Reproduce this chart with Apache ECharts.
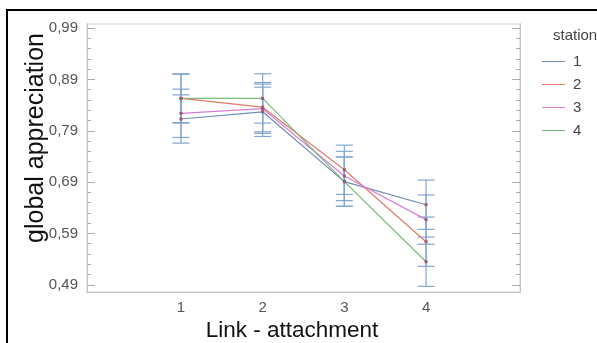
<!DOCTYPE html>
<html>
<head>
<meta charset="utf-8">
<script src="https://cdn.jsdelivr.net/npm/echarts@6/dist/echarts.min.js"></script>
<style>
  html, body { margin: 0; padding: 0; background: #fff; }
  #chart { width: 597px; height: 343px; }
</style>
</head>
<body>
<div id="chart"></div>
<script>
// link-attachment levels on the x axis
var links = [1, 2, 3, 4];
var stations = ['1', '2', '3', '4'];

// mean global appreciation per station
var station1 = [0.813, 0.827, 0.691, 0.646];
var station2 = [0.853, 0.836, 0.714, 0.574];
var station3 = [0.824, 0.833, 0.702, 0.617];
var station4 = [0.853, 0.853, 0.691, 0.535];

// half width of the error bars
var err1 = [0.047, 0.048, 0.048, 0.048];
var err2 = [0.047, 0.048, 0.048, 0.048];
var err3 = [0.047, 0.048, 0.048, 0.048];
var err4 = [0.048, 0.048, 0.048, 0.048];

var yTicks = [0.49, 0.59, 0.69, 0.79, 0.89, 0.99];
var yMinorTicks = [];
yTicks.forEach(function (t, i) {
    if (i < yTicks.length - 1) {
        for (var k = 1; k < 5; k++) yMinorTicks.push(+(t + k * 0.02).toFixed(2));
    }
});

var means = [station1, station2, station3, station4];
var errs = [err1, err2, err3, err4];
var colors = ['#6f8db3', '#e27a6a', '#d57fd8', '#7cb87a'];
var barColor = '#86a6d0';

var myChart = echarts.init(document.getElementById('chart'));

function yAxisDef(pos, major, showLabel) {
    return {
        type: 'value',
        position: pos,
        min: 0.476,
        max: 0.998,
        axisLine: { show: true, onZero: false, lineStyle: { color: '#c4c4c4' } },
        axisTick: {
            show: true,
            inside: true,
            length: major ? 8 : 4,
            customValues: major ? yTicks : yMinorTicks,
            lineStyle: { color: '#aaa' }
        },
        axisLabel: {
            show: showLabel,
            customValues: yTicks,
            color: '#555',
            fontSize: 15,
            fontFamily: 'Liberation Sans',
            margin: 9,
            formatter: function (v) { return v.toFixed(2).replace('.', ','); }
        },
        splitLine: { show: false }
    };
}

var series = [];
stations.forEach(function (name, s) {
    series.push({
        name: name,
        type: 'custom',
        z: 1,
        silent: true,
        data: links.map(function (x, i) {
            return [x, means[s][i] - errs[s][i], means[s][i] + errs[s][i]];
        }),
        renderItem: function (params, api) {
            var lo = api.coord([api.value(0), api.value(1)]);
            var hi = api.coord([api.value(0), api.value(2)]);
            var w = 8.5;
            var style = { stroke: barColor, lineWidth: 1.2 };
            return {
                type: 'group',
                children: [
                    { type: 'line', shape: { x1: lo[0], y1: lo[1], x2: hi[0], y2: hi[1] }, style: style },
                    { type: 'line', shape: { x1: lo[0] - w, y1: lo[1], x2: lo[0] + w, y2: lo[1] }, style: style },
                    { type: 'line', shape: { x1: hi[0] - w, y1: hi[1], x2: hi[0] + w, y2: hi[1] }, style: style }
                ]
            };
        }
    });
});
stations.forEach(function (name, s) {
    series.push({
        name: name,
        type: 'line',
        z: 3,
        data: links.map(function (x, i) { return [x, means[s][i]]; }),
        symbol: 'rect',
        symbolSize: 3,
        itemStyle: { color: '#9a5a6c' },
        lineStyle: { color: colors[s], width: 1.2 }
    });
});

myChart.setOption({
    animation: false,
    grid: {
        left: 87,
        right: 77,
        top: 24,
        bottom: 51,
        show: true,
        borderColor: '#d0d0d0',
        borderWidth: 1
    },
    title: {
        text: 'station',
        left: 548,
        top: 23,
        textStyle: { fontSize: 15, fontWeight: 'normal', color: '#444', fontFamily: 'Liberation Sans' }
    },
    legend: {
        orient: 'vertical',
        left: 537,
        top: 49,
        itemWidth: 23,
        itemHeight: 1,
        itemGap: 8,
        icon: 'rect',
        data: stations.map(function (n, s) {
            return { name: n, itemStyle: { color: colors[s] } };
        }),
        textStyle: { fontSize: 15, color: '#444', fontFamily: 'Liberation Sans', padding: [0, 0, 0, 3] }
    },
    xAxis: {
        type: 'value',
        min: -0.15,
        max: 5.15,
        axisLine: { show: true, onZero: false, lineStyle: { color: '#c4c4c4' } },
        axisTick: { show: false },
        splitLine: { show: false },
        axisLabel: {
            customValues: links,
            color: '#555',
            fontSize: 15,
            fontFamily: 'Liberation Sans',
            margin: 8
        }
    },
    yAxis: [
        yAxisDef('left', true, true),
        yAxisDef('left', false, false),
        yAxisDef('right', true, false),
        yAxisDef('right', false, false)
    ],
    graphic: [
        {
            type: 'polyline',
            shape: { points: [[7, 343], [7, 10], [597, 10]] },
            style: { stroke: '#000', lineWidth: 2, fill: null }
        },
        {
            type: 'text',
            x: 36,
            y: 138,
            rotation: Math.PI / 2,
            style: {
                text: 'global appreciation',
                fontSize: 25,
                fontFamily: 'Liberation Sans',
                fill: '#111',
                align: 'center',
                verticalAlign: 'middle'
            }
        },
        {
            type: 'text',
            x: 292,
            y: 331,
            style: {
                text: 'Link - attachment',
                fontSize: 22.5,
                fontFamily: 'Liberation Sans',
                fill: '#111',
                align: 'center',
                verticalAlign: 'middle'
            }
        }
    ],
    series: series
});
</script>
</body>
</html>
